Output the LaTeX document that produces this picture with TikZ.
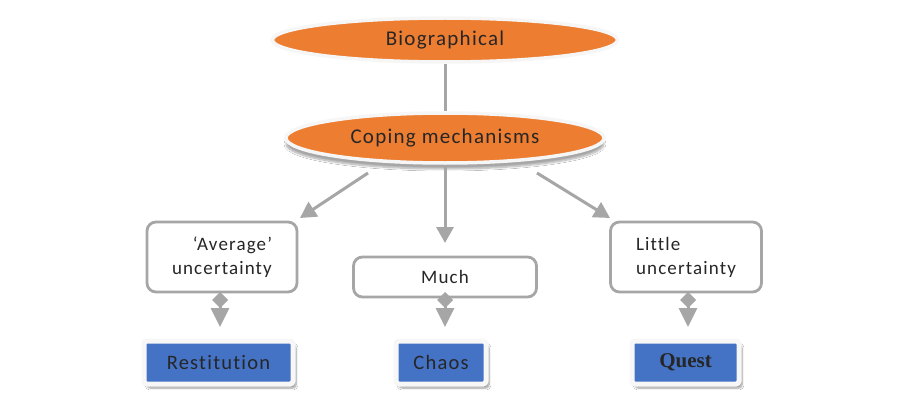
\documentclass[tikz,border=0pt]{standalone}
\usepackage{fontspec}
\setmainfont{Carlito}[LetterSpace=6,Ligatures=NoCommon]
\newfontfamily\questfont{Liberation Serif}
\usetikzlibrary{shapes.geometric,arrows.meta,shadows.blur}
\definecolor{orng}{HTML}{ED7D31}
\definecolor{blu}{HTML}{4472C4}
\definecolor{lgray}{HTML}{A6A6A6}
\definecolor{txt}{HTML}{262626}
\tikzset{
  oval/.style={ellipse, fill=orng, draw=white!93!gray, line width=3.5pt, text=txt, font=\fontsize{21}{24}\selectfont, inner sep=0pt},
  wbox/.style={rectangle, rounded corners=9pt, fill=white, draw=lgray, line width=2.8pt, text=txt, font=\fontsize{19}{24}\selectfont, align=left},
  bbox/.style={rectangle, rounded corners=3pt, fill=blu, draw=white!94!gray, line width=5pt, text=txt, font=\fontsize{20.5}{24}\selectfont, blur shadow={shadow xshift=3pt, shadow yshift=-4pt, shadow blur steps=8, shadow opacity=40}},
  conn/.style={draw=lgray, line width=3pt, -{Triangle[width=17pt,length=16pt]}},
  dconn/.style={draw=lgray, line width=3pt, {Diamond[width=16pt,length=16pt]}-{Triangle[width=18pt,length=19pt]}},
}
\begin{document}
\begin{tikzpicture}[x=1pt,y=-1pt]
\useasboundingbox[fill=white] (0,0) rectangle (900,420);
\node[oval, minimum width=345pt, minimum height=44pt] (bio) at (445,40) {Biographical};
\node[oval, minimum width=318pt, minimum height=50pt, blur shadow={shadow xshift=0pt, shadow yshift=-6pt, shadow blur steps=10, shadow opacity=35}] (cop) at (445,138) {Coping mechanisms};
\draw[draw=lgray, line width=3pt] (bio.south) -- (cop.north);
\node[wbox, minimum width=150pt, minimum height=70pt] (avg) at (222,257) {\hspace*{1.1em}‘Average’\\uncertainty};
\node[wbox, minimum width=183pt, minimum height=40pt] (much) at (445,277) {Much};
\node[wbox, minimum width=151pt, minimum height=70pt] (lit) at (686,257) {Little\\uncertainty};
\coordinate (c1) at (368,173);
\coordinate (c3) at (537,173);
\coordinate (t1) at (300,218);
\coordinate (t2) at (445,243);
\coordinate (t3) at (610,218);
\draw[conn] (c1) -- (t1);
\draw[conn] (cop.south) -- (t2);
\draw[conn] (c3) -- (t3);
\node[bbox, minimum width=149pt, minimum height=43pt] (res) at (218.5,362.5) {Restitution};
\node[bbox, minimum width=90pt, minimum height=43pt] (cha) at (441,362.5) {Chaos};
\node[bbox, minimum width=107pt, minimum height=43pt, font=\questfont\bfseries\fontsize{21}{24}\selectfont] (que) at (685.5,362.5) {Quest};
\coordinate (d1) at (220,292); \coordinate (e1) at (220,327);
\coordinate (d2) at (445,292); \coordinate (e2) at (445,327);
\coordinate (d3) at (688,292); \coordinate (e3) at (688,327);
\draw[dconn] (d1) -- (e1);
\draw[dconn] (d2) -- (e2);
\draw[dconn] (d3) -- (e3);
\end{tikzpicture}
\end{document}
